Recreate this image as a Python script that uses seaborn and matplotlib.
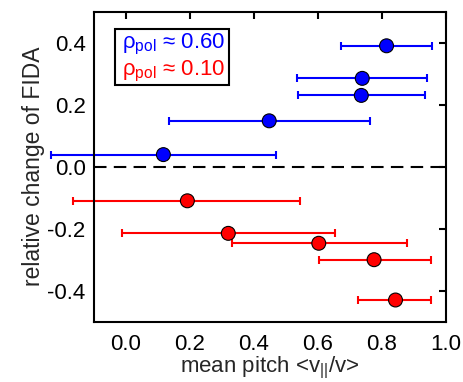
import numpy as np
import pandas as pd
import matplotlib
matplotlib.use("Agg")
import matplotlib.pyplot as plt
from matplotlib.patches import Rectangle
import seaborn as sns

# Data
blue_x = [0.815, 0.739, 0.736, 0.448, 0.117]
blue_y = [0.390, 0.285, 0.230, 0.148, 0.039]
blue_lo = [0.674, 0.536, 0.537, 0.135, -0.235]
blue_hi = [0.957, 0.940, 0.934, 0.762, 0.468]

red_x = [0.192, 0.320, 0.603, 0.776, 0.843]
red_y = [-0.110, -0.215, -0.247, -0.300, -0.430]
red_lo = [-0.165, -0.012, 0.332, 0.603, 0.726]
red_hi = [0.544, 0.655, 0.879, 0.953, 0.955]

x_ticks = [0.0, 0.2, 0.4, 0.6, 0.8, 1.0]
y_ticks = [-0.4, -0.2, 0.0, 0.2, 0.4]

sns.set_theme(style="white")
plt.rcParams['font.family'] = ['Liberation Sans', 'DejaVu Sans']
plt.rcParams['mathtext.fontset'] = 'custom'
plt.rcParams['mathtext.rm'] = 'Liberation Sans'
plt.rcParams['mathtext.it'] = 'Liberation Sans'

df = pd.DataFrame({
    "x": blue_x + red_x,
    "y": blue_y + red_y,
    "lo": blue_lo + red_lo,
    "hi": blue_hi + red_hi,
    "grp": ["blue"] * len(blue_x) + ["red"] * len(red_x),
})
palette = {"blue": "#0000ff", "red": "#ff0000"}

fig = plt.figure(figsize=(4.64, 3.82), dpi=100)
ax = fig.add_axes([94 / 464, 1 - 321.7 / 382, (445.7 - 94) / 464, (321.7 - 11.7) / 382])

ax.axhline(0, color="black", lw=1.5, ls=(0, (6, 3.5)), zorder=1)

for g, sub in df.groupby("grp"):
    xerr = np.vstack([sub["x"] - sub["lo"], sub["hi"] - sub["x"]])
    eb = ax.errorbar(sub["x"], sub["y"], xerr=xerr, fmt="none", ecolor=palette[g],
                     elinewidth=1.5, capsize=3, capthick=1.5, zorder=2)
    for art in eb.get_children():
        art.set_clip_on(False)

sns.scatterplot(data=df, x="x", y="y", hue="grp", palette=palette, s=100,
                edgecolor="black", linewidth=0.8, legend=False, ax=ax, zorder=3)

ax.set_xlim(-0.1, 1.0)
ax.set_ylim(-0.5, 0.5)
ax.set_xticks(x_ticks)
ax.set_yticks(y_ticks)
ax.set_xticklabels([f"{v:.1f}" for v in x_ticks])
ax.set_yticklabels([f"{v:.1f}" for v in y_ticks])
ax.tick_params(direction="in", length=5, width=1.5, top=True, right=True,
               labeltop=False, labelright=False, labelsize=16, colors="black")
ax.tick_params(axis="y", pad=6)
ax.tick_params(axis="x", pad=9)
for s in ax.spines.values():
    s.set_linewidth(1.5)
    s.set_color("black")
    s.set_visible(True)

ax.set_xlabel("mean pitch <v$_{||}$/v>", fontsize=16, labelpad=0)
ax.set_ylabel("relative change of FIDA", fontsize=16.5, labelpad=2)

# legend-like box
ax.add_patch(Rectangle((0.060, 0.762), 0.324, 0.183, transform=ax.transAxes,
                       facecolor="white", edgecolor="black", lw=1.5, zorder=4))
ax.text(0.079, 0.880, "ρ$_{\\rm pol}$ ≈ 0.60", transform=ax.transAxes,
        fontsize=16, va="baseline", ha="left", color="#0000ff", zorder=5)
ax.text(0.079, 0.796, "ρ$_{\\rm pol}$ ≈ 0.10", transform=ax.transAxes,
        fontsize=16, va="baseline", ha="left", color="#ff0000", zorder=5)

fig.savefig("out.png", dpi=100)
